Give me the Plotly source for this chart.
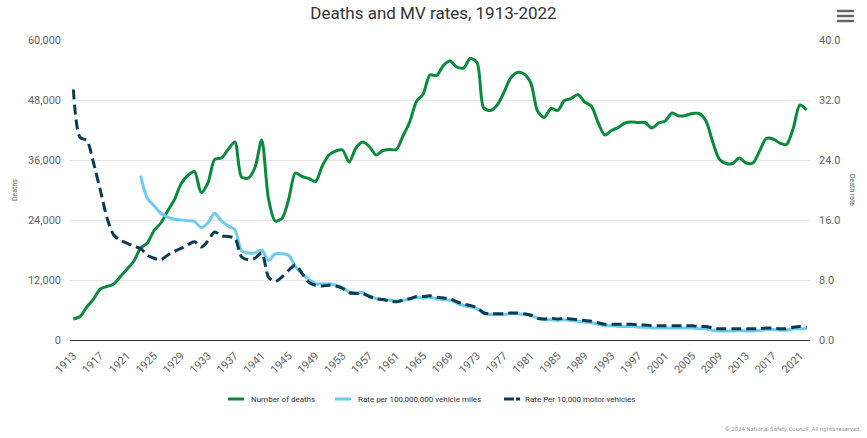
import plotly.graph_objects as go

years = list(range(1913, 2023))

deaths = [
    4200, 4700, 6600, 8200, 10200, 10700, 11200, 12700, 14200, 15800,
    18400, 19400, 21900, 23400, 25800, 28000, 31200, 32900, 33700, 29500,
    31400, 36100, 36400, 38100, 39600, 32600, 32400, 34500, 40000, 28300,
    23800, 24300, 28100, 33400, 32700, 32300, 31700, 34800, 37000, 37800,
    38000, 35600, 38400, 39600, 38700, 37000, 37900, 38100, 38100, 40800,
    43600, 47700, 49200, 53000, 52900, 54900, 55800, 54600, 54400, 56300,
    55500, 46400, 45900, 47000, 49500, 52400, 53500, 53200, 51400, 45800,
    44500, 46300, 45900, 47900, 48300, 49100, 47600, 46800, 43500, 41000,
    41900, 42500, 43400, 43600, 43500, 43500, 42400, 43400, 43800, 45400,
    44800, 44900, 45300, 45300, 43900, 39800, 36200, 35300, 35300, 36400,
    35400, 35400, 37800, 40300, 40200, 39400, 39100, 42300, 47000, 46000,
]

rate_miles = [None] * 10 + [
    21.9, 18.9, 17.9, 16.9, 16.4, 16.1, 16.0, 15.9, 15.8, 15.0,
    15.6, 16.9, 15.9, 15.2, 14.7, 11.9, 11.6, 11.6, 12.0, 10.6,
    11.5, 11.5, 11.3, 9.8, 8.8, 8.1, 7.5, 7.5, 7.5, 7.3,
    7.0, 6.4, 6.3, 6.3, 5.9, 5.5, 5.4, 5.3, 5.2, 5.3,
    5.5, 5.7, 5.6, 5.7, 5.5, 5.4, 5.3, 4.9, 4.6, 4.4,
    4.2, 3.6, 3.4, 3.4, 3.4, 3.5, 3.5, 3.4, 3.3, 2.9,
    2.7, 2.7, 2.6, 2.7, 2.6, 2.5, 2.4, 2.3, 2.1, 1.9,
    1.9, 1.8, 1.8, 1.8, 1.7, 1.7, 1.6, 1.6, 1.6, 1.6,
    1.6, 1.6, 1.6, 1.5, 1.5, 1.3, 1.2, 1.2, 1.2, 1.3,
    1.2, 1.2, 1.3, 1.4, 1.4, 1.3, 1.3, 1.5, 1.5, 1.5,
]

rate_vehicles = [
    33.4, 27.0, 26.6, 23.6, 20.0, 16.3, 14.0, 13.3, 12.9, 12.5,
    12.2, 11.3, 10.9, 10.7, 11.3, 11.8, 12.2, 12.7, 13.1, 12.4,
    13.2, 14.4, 13.9, 13.8, 13.6, 11.1, 10.7, 10.9, 11.6, 8.4,
    7.8, 8.4, 9.3, 10.0, 8.9, 7.7, 7.3, 7.2, 7.3, 7.2,
    6.9, 6.3, 6.2, 6.2, 5.8, 5.5, 5.4, 5.2, 5.1, 5.3,
    5.5, 5.8, 5.8, 5.9, 5.7, 5.6, 5.5, 5.1, 4.8, 4.6,
    4.3, 3.6, 3.5, 3.5, 3.5, 3.6, 3.6, 3.5, 3.3, 2.9,
    2.8, 2.9, 2.8, 2.9, 2.8, 2.7, 2.6, 2.5, 2.3, 2.1,
    2.1, 2.1, 2.1, 2.1, 2.0, 2.0, 1.9, 1.9, 1.9, 1.9,
    1.9, 1.9, 1.9, 1.8, 1.8, 1.6, 1.5, 1.5, 1.5, 1.5,
    1.5, 1.5, 1.5, 1.6, 1.6, 1.5, 1.5, 1.7, 1.8, 1.7,
]

tick_years = years[::4]
series_names = ["Number of deaths", "Rate per 100,000,000 vehicle miles", "Rate Per 10,000 motor vehicles"]

GREEN = "#0a8a3c"
LIGHT = "#6ccbef"
NAVY = "#0b3a55"
FONT = "Roboto, Arial, sans-serif"

fig = go.Figure()
fig.add_trace(go.Scatter(x=years, y=deaths, name=series_names[0], mode="lines",
                         line=dict(color=GREEN, width=3, shape="spline", smoothing=0.8),
                         yaxis="y"))
fig.add_trace(go.Scatter(x=years, y=rate_miles, name=series_names[1], mode="lines",
                         line=dict(color=LIGHT, width=3, shape="spline", smoothing=0.8),
                         yaxis="y2", connectgaps=False))
fig.add_trace(go.Scatter(x=years, y=rate_vehicles, name=series_names[2], mode="lines",
                         line=dict(color=NAVY, width=3, shape="spline", smoothing=0.8, dash="10px,5px"),
                         yaxis="y2"))

W, H = 867, 438
L, R, T, B = 70, 57, 40, 98
pw, ph = W - L - R, H - T - B


def px(xp):
    return (xp - L) / pw


def py(yp):
    return (H - B - yp) / ph


shapes = []
annotations = []

# custom legend
leg_y = py(399)
shapes.append(dict(type="line", xref="paper", yref="paper", x0=px(228), x1=px(244), y0=leg_y, y1=leg_y,
                   line=dict(color=GREEN, width=3)))
shapes.append(dict(type="line", xref="paper", yref="paper", x0=px(335), x1=px(351), y0=leg_y, y1=leg_y,
                   line=dict(color=LIGHT, width=3)))
shapes.append(dict(type="line", xref="paper", yref="paper", x0=px(504), x1=px(514), y0=leg_y, y1=leg_y,
                   line=dict(color=NAVY, width=3)))
shapes.append(dict(type="line", xref="paper", yref="paper", x0=px(516), x1=px(520), y0=leg_y, y1=leg_y,
                   line=dict(color=NAVY, width=3)))
for xx, name in zip([249, 356, 523], series_names):
    annotations.append(dict(xref="paper", yref="paper", x=px(xx), y=leg_y, text=name, showarrow=False,
                            xanchor="left", yanchor="middle",
                            font=dict(family=FONT, size=8, color="#333333")))

# hamburger menu icon
for yy in [11, 16, 21]:
    shapes.append(dict(type="line", xref="paper", yref="paper", x0=px(837), x1=px(854), y0=py(yy), y1=py(yy),
                       line=dict(color="#666666", width=2.5)))

# axis titles
annotations.append(dict(xref="paper", yref="paper", x=px(15), y=py(190), text="Deaths", textangle=-90,
                        showarrow=False, xanchor="center", yanchor="middle",
                        font=dict(family=FONT, size=7, color="#666666")))
annotations.append(dict(xref="paper", yref="paper", x=px(852), y=py(190), text="Death rate", textangle=90,
                        showarrow=False, xanchor="center", yanchor="middle",
                        font=dict(family=FONT, size=7, color="#666666")))

# credit
annotations.append(dict(xref="paper", yref="paper", x=px(863), y=py(428), text="© 2024 National Safety Council. All rights reserved.",
                        showarrow=False, xanchor="right", yanchor="middle",
                        font=dict(family=FONT, size=6, color="#999999")))

fig.update_layout(
    width=W, height=H,
    margin=dict(l=L, r=R, t=T, b=B),
    paper_bgcolor="white", plot_bgcolor="white",
    showlegend=False,
    title=dict(text="Deaths and MV rates, 1913-2022", x=0.5, xanchor="center", y=1 - 13 / H, yanchor="middle",
               font=dict(family=FONT, size=17, color="#333333")),
    font=dict(family=FONT, color="#666666"),
    xaxis=dict(range=[1912.5, 2022.5], tickmode="array", tickvals=tick_years,
               ticktext=[str(y) for y in tick_years], tickangle=-45,
               showgrid=False, zeroline=False, showline=True, linecolor="#333333", linewidth=1,
               ticks="", ticklabelstandoff=4,
               tickfont=dict(family=FONT, size=11, color="#666666"), fixedrange=True),
    yaxis=dict(range=[0, 60000], tickmode="array", tickvals=[0, 12000, 24000, 36000, 48000, 60000],
               tickformat=",", showgrid=True, gridcolor="#e6e6e6", gridwidth=1, zeroline=False,
               ticks="", ticklabelstandoff=8, tickfont=dict(family=FONT, size=11, color="#666666")),
    yaxis2=dict(range=[0, 40], tickmode="array", tickvals=[0, 8, 16, 24, 32, 40], tickformat=".1f",
                overlaying="y", side="right", showgrid=False, zeroline=False, ticks="",
                ticklabelstandoff=8, tickfont=dict(family=FONT, size=11, color="#666666")),
    shapes=shapes,
    annotations=annotations,
)

fig.write_html("out.html")
